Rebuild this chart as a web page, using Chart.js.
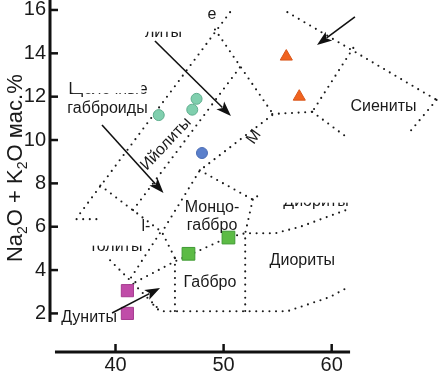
<!DOCTYPE html>
<html><head><meta charset="utf-8">
<script src="https://cdn.jsdelivr.net/npm/chart.js@4.4.1/dist/chart.umd.min.js"></script>
<style>html,body{margin:0;padding:0;background:#fff;}</style>
</head><body>
<canvas id="c" width="440" height="374"></canvas>
<script>
// ---- axes ----
const xTicks = [40, 50, 60];
const yTicks = [2, 4, 6, 8, 10, 12, 14, 16];
const xRange = [33.94, 70.02];
const yRange = [0.22, 16.46];
const xAxisSpan = [34.4, 61.7];
const yAxisSpan = [1.6, 16.46];

// ---- samples (SiO2, Na2O+K2O) ----
const tealCircles = [[44.0, 11.15], [47.1, 11.4], [47.5, 11.9]];
const blueCircles = [[48.0, 9.4]];
const orangeTriangles = [[55.8, 13.85], [57.0, 12.0]];
const greenSquares = [[46.75, 4.75], [50.45, 5.5]];
const magentaSquares = [[41.1, 3.05], [41.1, 2.0]];

// ---- field boundaries (dotted) ----
const bP1 = [[50.6, 15.9], [36.4, 6.4]];
const bP1foot = [[36.4, 6.35], [38.3, 6.35]];
const bB = [[49.2, 15.1], [54.5, 11.25]];
const bC = [[54.5, 11.2], [58.2, 11.3]];
const bD = [[55.9, 15.9], [69.7, 11.85]];
const bE = [[69.7, 11.85], [67.1, 10.3]];
const bF = [[62.0, 14.25], [58.2, 11.3]];
const bG = [[58.2, 11.3], [61.2, 10.2]];
const bR = [[54.5, 11.15], [47.8, 8.6], [44.3, 5.75]];
const bA2 = [[51.5, 13.35], [41.3, 6.55]];
const bQ = [[38.6, 7.9], [44.3, 5.75], [45.5, 4.55]];
const bS = [[47.8, 8.6], [52.7, 7.25], [53.5, 7.55]];
const bT = [[52.7, 7.25], [52.0, 5.7], [52.0, 2.1]];
const bU = [[41.3, 3.3], [45.5, 4.4], [50.4, 5.5], [52.0, 5.7], [54.8, 5.7], [57.1, 6.0], [61.5, 6.8]];
const bX1 = [[45.5, 4.55], [45.5, 2.1]];
const bBottom = [[43.5, 2.4], [44.1, 2.1], [55.9, 2.1], [58.0, 2.45], [59.8, 2.75], [61.5, 3.2]];
const bY1 = [[39.5, 4.45], [44.1, 2.15]];
const bZ = [[44.1, 5.7], [41.3, 3.55]];
const boundaries = [bP1, bP1foot, bB, bC, bD, bE, bF, bG, bR, bA2, bQ, bS, bT, bU, bX1, bBottom, bY1, bZ];

// ---- field labels ----
const labelTexts = ['Дуниты', 'Габбро', 'Монцо-', 'габбро', 'Диориты', 'Сиениты', 'габброиды', 'Щелочные', 'литы', 'толиты', 'Диориты', 'l-', 'М', 'е', 'Ийолиты'];
const labelX = [37.55, 48.74, 48.93, 48.93, 57.28, 64.79, 39.26, 39.31, 44.44, 40.05, 58.55, 42.82, 52.82, 48.93, 44.67];
const labelY = [1.83, 3.40, 6.86, 6.03, 4.44, 11.55, 11.45, 12.33, 14.96, 5.09, 7.16, 5.99, 10.14, 15.77, 9.82];
const labelRot = [0, 0, 0, 0, 0, 0, 0, 0, 0, 0, 0, 0, -55, 0, -47];
const labelCover = ['', '', '', '', '', '', '', 'mid', 'top', 'top', 'top2', '', '', '', ''];

// ---- arrows [x0,y0,x1,y1] ----
const arrows = [
  [43.65, 14.57, 50.68, 11.11],
  [38.75, 10.69, 44.44, 7.56],
  [62.15, 15.68, 58.64, 14.38],
  [39.68, 2.02, 44.12, 3.17]
];

const FONT = '"Liberation Sans", Arial, Helvetica, sans-serif';
const toXY = a => a.map(p => ({x: p[0], y: p[1]}));

const datasets = [];
const pts = (data, style, r, fill, edge, bw) => ({
  data: toXY(data), showLine: false, pointStyle: style, pointRadius: r,
  backgroundColor: fill, borderColor: edge, borderWidth: bw, order: 0
});
datasets.push(pts(tealCircles, 'circle', 5.5, '#80cfae', '#5fae8e', 1));
datasets.push(pts(blueCircles, 'circle', 5.5, '#5a7fcb', '#4a6cb4', 1));
datasets.push(pts(orangeTriangles, 'triangle', 7, '#f0631f', '#d9561a', 1));
datasets.push(pts(greenSquares, 'rect', 9, '#5cbb45', '#3f9a33', 1));
datasets.push(pts(magentaSquares, 'rect', 8.6, '#c04ca8', '#a63c90', 1));
for (const b of boundaries) {
  datasets.push({
    data: toXY(b), showLine: true, pointRadius: 0, borderColor: '#1a1a1a',
    borderWidth: 2.1, borderDash: [0, 6.6], borderCapStyle: 'round', fill: false, order: 1
  });
}

function drawArrow(ctx, x0, y0, x1, y1) {
  const ang = Math.atan2(y1 - y0, x1 - x0);
  const L = 15, W = 5.5;
  const bx = x1 - L * Math.cos(ang), by = y1 - L * Math.sin(ang);
  ctx.beginPath(); ctx.moveTo(x0, y0); ctx.lineTo(bx + 3 * Math.cos(ang), by + 3 * Math.sin(ang));
  ctx.lineWidth = 1.6; ctx.strokeStyle = '#111'; ctx.stroke();
  ctx.beginPath();
  ctx.moveTo(x1, y1);
  ctx.lineTo(bx - W * Math.sin(ang), by + W * Math.cos(ang));
  ctx.lineTo(bx + 3.5 * Math.cos(ang), by + 3.5 * Math.sin(ang));
  ctx.lineTo(bx + W * Math.sin(ang), by - W * Math.cos(ang));
  ctx.closePath(); ctx.fillStyle = '#111'; ctx.fill();
}

const deco = {
  id: 'deco',
  afterDraw(chart) {
    const ctx = chart.ctx, xs = chart.scales.x, ys = chart.scales.y;
    const px = v => xs.getPixelForValue(v), py = v => ys.getPixelForValue(v);
    ctx.save();
    // axis lines
    ctx.strokeStyle = '#111'; ctx.lineWidth = 3; ctx.lineCap = 'butt';
    const ax = chart.chartArea.left, ay = chart.chartArea.bottom;
    ctx.beginPath(); ctx.moveTo(ax, py(yAxisSpan[1])); ctx.lineTo(ax, py(yAxisSpan[0])); ctx.stroke();
    ctx.beginPath(); ctx.moveTo(px(xAxisSpan[0]), ay); ctx.lineTo(px(xAxisSpan[1]), ay); ctx.stroke();
    ctx.lineWidth = 2.5;
    for (const t of yTicks) { ctx.beginPath(); ctx.moveTo(ax, py(t)); ctx.lineTo(ax + 8, py(t)); ctx.stroke(); }
    for (const t of xTicks) { ctx.beginPath(); ctx.moveTo(px(t), ay); ctx.lineTo(px(t), ay - 8); ctx.stroke(); }

    // labels
    for (let i = 0; i < labelTexts.length; i++) {
      const size = 16;
      ctx.font = size + 'px ' + FONT;
      ctx.textAlign = 'center'; ctx.textBaseline = 'middle';
      const cx = px(labelX[i]), cy = py(labelY[i]);
      ctx.save(); ctx.translate(cx, cy); ctx.rotate(labelRot[i] * Math.PI / 180);
      ctx.fillStyle = '#1a1a1a';
      ctx.fillText(labelTexts[i], 0, 0);
      const w = ctx.measureText(labelTexts[i]).width;
      const base = 0.35 * size;
      ctx.fillStyle = '#ffffff';
      if (labelCover[i] === 'top') {
        ctx.fillRect(-w / 2 - 1, -size, w + 2, size + base - 0.4 * size);
      } else if (labelCover[i] === 'top2') {
        ctx.fillRect(-w / 2 - 1, -size, w + 2, size + base - 0.28 * size);
      } else if (labelCover[i] === 'mid') {
        ctx.fillRect(-w / 2 + 4, -size, w - 10, size + base - 2);
      }
      ctx.restore();
    }

    // arrows
    for (const a of arrows) drawArrow(ctx, px(a[0]), py(a[1]), px(a[2]), py(a[3]));

    // y title with subscripts
    ctx.fillStyle = '#1a1a1a';
    ctx.translate(ax - 28, py(yAxisSpan[0]) - 60);
    ctx.rotate(-Math.PI / 2);
    ctx.textAlign = 'left'; ctx.textBaseline = 'alphabetic';
    const parts = [['Na', 0], ['2', 1], ['O + K', 0], ['2', 1], ['O мас.%', 0]];
    let xp = 0;
    for (const [t, sub] of parts) {
      ctx.font = (sub ? 14 : 22) + 'px ' + FONT;
      ctx.fillText(t, xp, sub ? 5 : 0);
      xp += ctx.measureText(t).width;
    }
    ctx.restore();
  }
};

new Chart(document.getElementById('c'), {
  type: 'scatter',
  data: { datasets },
  options: {
    responsive: false, animation: false, devicePixelRatio: 1, events: [],
    layout: { padding: 0, autoPadding: false },
    plugins: { legend: { display: false }, tooltip: { enabled: false } },
    scales: {
      x: {
        type: 'linear', min: xRange[0], max: xRange[1],
        grid: { display: false, drawTicks: false }, border: { display: false },
        afterBuildTicks: s => { s.ticks = xTicks.map(v => ({value: v})); },
        ticks: { font: { size: 20, family: FONT }, color: '#1a1a1a', padding: 1, maxRotation: 0 },
        afterFit: s => { s.height = 22; s.paddingLeft = 0; s.paddingRight = 0; }
      },
      y: {
        type: 'linear', min: yRange[0], max: yRange[1],
        grid: { display: false, drawTicks: false }, border: { display: false },
        afterBuildTicks: s => { s.ticks = yTicks.map(v => ({value: v})); },
        ticks: { font: { size: 20, family: FONT }, color: '#1a1a1a', padding: 4 },
        afterFit: s => { s.width = 50; s.paddingTop = 0; s.paddingBottom = 0; }
      }
    }
  },
  plugins: [deco]
});
</script>
</body></html>
